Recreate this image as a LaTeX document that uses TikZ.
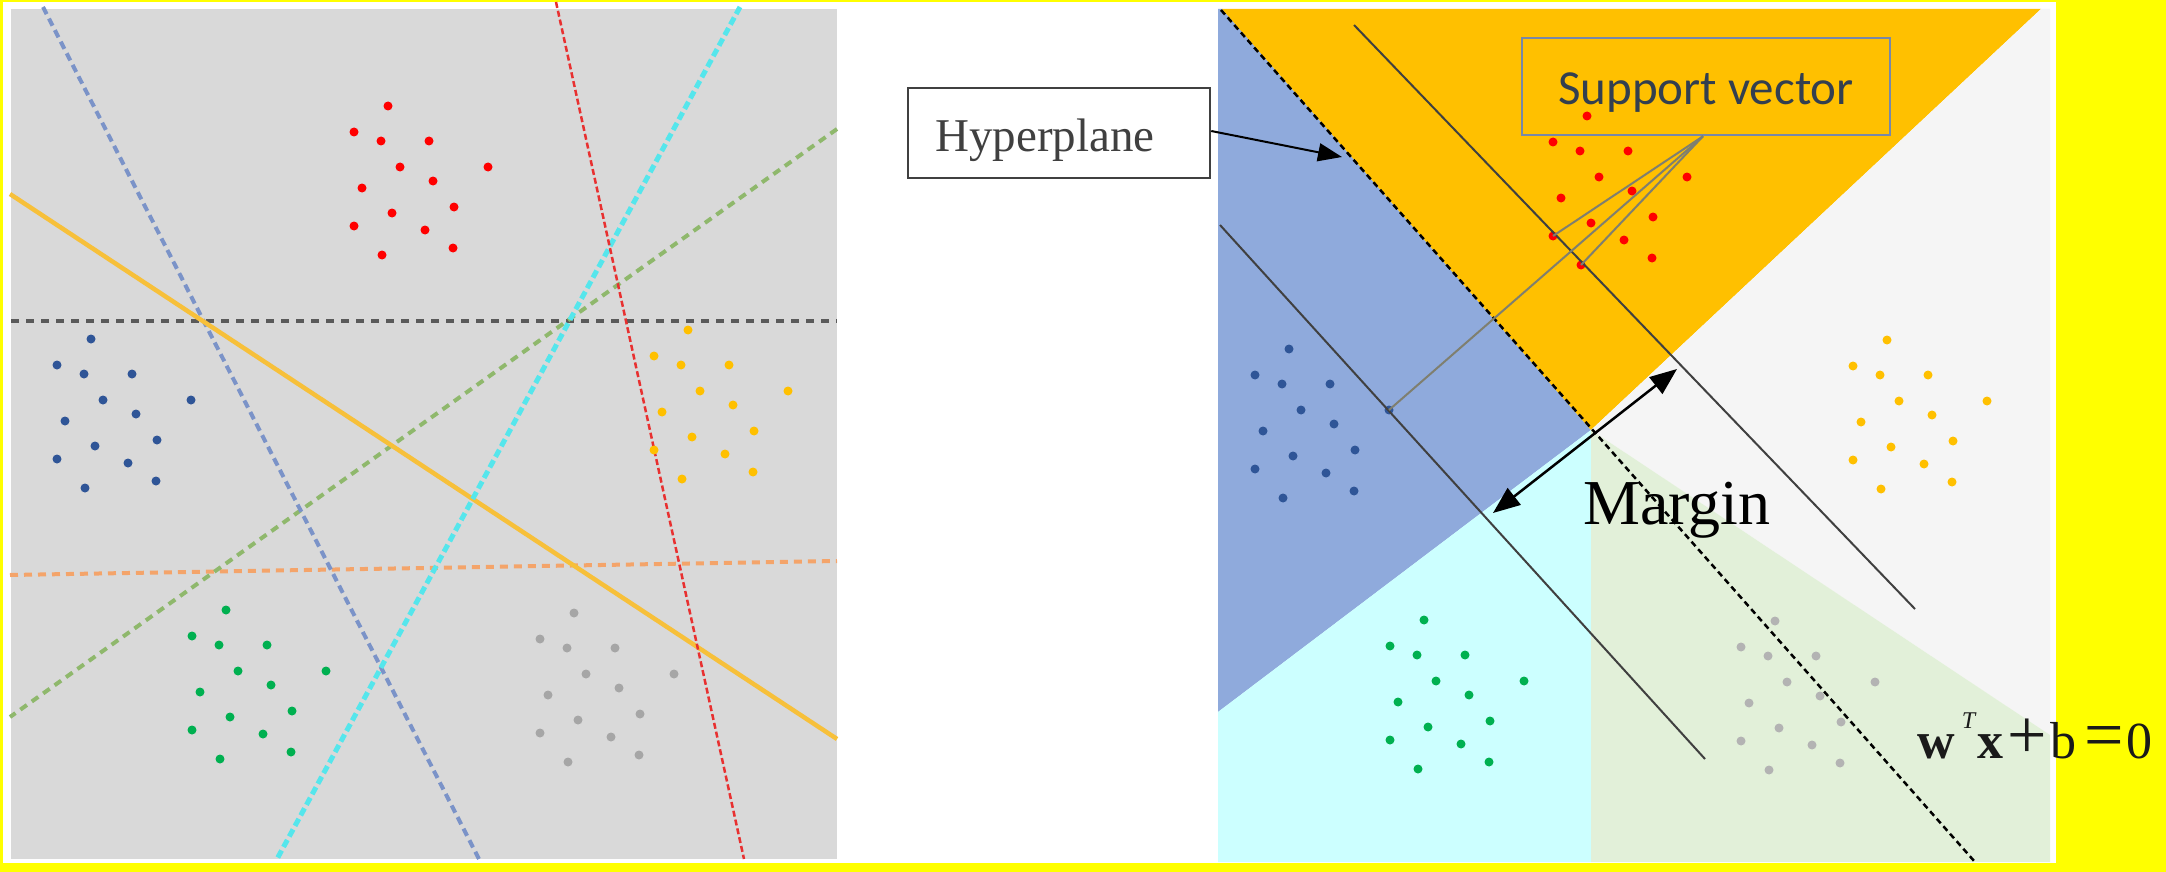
\documentclass[tikz,border=0pt]{standalone}
\usepackage{fontspec}
\setmainfont{Liberation Serif}
\newfontfamily\svfont{Carlito}
\usetikzlibrary{arrows.meta}
\definecolor{frameyel}{HTML}{FFFF00}
\definecolor{panelgray}{HTML}{D9D9D9}
\definecolor{dred}{HTML}{FF0000}
\definecolor{dblue}{HTML}{2F5597}
\definecolor{dyel}{HTML}{FFC000}
\definecolor{dgreen}{HTML}{00B050}
\definecolor{dgray}{HTML}{A6A6A6}
\definecolor{lblue}{HTML}{7B93C8}
\definecolor{lred}{HTML}{E83030}
\definecolor{lcyan}{HTML}{55E6EC}
\definecolor{lgreen}{HTML}{8FB86C}
\definecolor{lblack}{HTML}{5A5A5A}
\definecolor{lorange}{HTML}{F4A46A}
\definecolor{lyellow}{HTML}{F7C03A}
\definecolor{rblue}{HTML}{8FAADC}
\definecolor{rorange}{HTML}{FFC000}
\definecolor{rwhite}{HTML}{F5F5F5}
\definecolor{rcyan}{HTML}{CCFFFF}
\definecolor{rgreen}{HTML}{E2F0D9}
\definecolor{boxline}{HTML}{404040}
\definecolor{svborder}{HTML}{7888A8}
\definecolor{svtext}{HTML}{333F4F}
\definecolor{svlink}{HTML}{7F7F6F}
\definecolor{eqtext}{HTML}{1A1A1A}
\newcommand\dotcluster[4]{%
  \foreach \dx/\dy [count=\k] in {0/0,-34/26,-7/35,41/35,12/61,100/61,45/75,-26/82,66/101,4/107,-34/120,37/124,65/142,-6/149}{%
    \node[dot=#2] (#1\k) at ({#3+\dx},{#4+\dy}) {};}}
\begin{document}
\begin{tikzpicture}[x=1pt,y=-1pt,
  dot/.style={circle,fill=#1,draw=none,inner sep=0pt,minimum size=9pt},
  dashline/.style={line width=4pt,dash pattern=on 8pt off 5pt},
  marginline/.style={draw=boxline,line width=2pt},
  hyperline/.style={draw=black,line width=2.5pt,dash pattern=on 6pt off 4pt},
  svlinkstyle/.style={draw=svlink,line width=2pt},
  hypbox/.style={draw=boxline,line width=2.5pt,fill=white,minimum width=302pt,minimum height=90pt,inner sep=0pt,text height=37pt,text depth=0pt,font=\fontsize{47}{56}\selectfont,text=boxline},
  svbox/.style={draw=svborder,line width=2.5pt,minimum width=368pt,minimum height=97pt,inner sep=0pt,text height=37pt,text depth=0pt,font=\svfont\fontsize{49}{58}\selectfont,text=svtext},
  arrowline/.style={draw=black,line width=2pt,-{Triangle[length=24pt,width=18pt]}},
  dblarrow/.style={draw=black,line width=2.5pt,{Triangle[length=27pt,width=21pt]}-{Triangle[length=27pt,width=21pt]}}
]
\useasboundingbox (0,0) rectangle (2166,872);
% frame
\fill[frameyel] (0,0) rectangle (2166,872);
\fill[white] (3,2) rectangle (2056,863);
% ---------------- left panel ----------------
\fill[panelgray] (11,9) rectangle (837,859);
\coordinate (bl1) at (43,7);   \coordinate (bl2) at (479,859);
\coordinate (rl1) at (556,2);  \coordinate (rl2) at (744,859);
\coordinate (cl1) at (740,7);  \coordinate (cl2) at (277,859);
\coordinate (gl1) at (837,129);\coordinate (gl2) at (10,717);
\coordinate (kl1) at (11,321); \coordinate (kl2) at (837,321);
\coordinate (ol1) at (10,575); \coordinate (ol2) at (837,561);
\coordinate (yl1) at (10,194); \coordinate (yl2) at (837,739);
\draw[dashline,draw=lblack,line width=4.5pt,dash pattern=on 8pt off 7pt] (kl1) -- (kl2);
\draw[dashline,draw=lorange,dash pattern=on 8pt off 6pt] (ol1) -- (ol2);
\draw[dashline,draw=lgreen,dash pattern=on 8pt off 6pt] (gl1) -- (gl2);
\draw[dashline,draw=lblue] (bl1) -- (bl2);
\draw[lyellow,line width=4.5pt] (yl1) -- (yl2);
\draw[dashline,draw=lcyan,line width=5pt,dash pattern=on 8pt off 4pt] (cl1) -- (cl2);
\draw[draw=lred,line width=2.5pt,dash pattern=on 6pt off 3pt] (rl1) -- (rl2);
\dotcluster{lR}{dred}{388}{106}
\dotcluster{lB}{dblue}{91}{339}
\dotcluster{lY}{dyel}{688}{330}
\dotcluster{lG}{dgreen}{226}{610}
\dotcluster{lK}{dgray}{574}{613}
% ---------------- right panel ----------------
\coordinate (ctr) at (1591,430);
\fill[rblue] (1218,9) -- (1222,9) -- (ctr) -- (1218,712) -- cycle;
\fill[rorange] (1222,9) -- (2041,9) -- (ctr) -- cycle;
\fill[rwhite] (2041,9) -- (2050,9) -- (2050,735) -- (ctr) -- cycle;
\fill[rcyan] (1218,712) -- (ctr) -- (1591,862) -- (1218,862) -- cycle;
\fill[rgreen] (ctr) -- (2050,735) -- (2050,862) -- (1591,862) -- cycle;
\dotcluster{R}{dred}{1587}{116}
\dotcluster{B}{dblue}{1289}{349}
\dotcluster{Y}{dyel}{1887}{340}
\dotcluster{G}{dgreen}{1424}{620}
\dotcluster{K}{dgray!85}{1775}{621}
% margin lines and hyperplane
\coordinate (um1) at (1354,25);  \coordinate (um2) at (1915,609);
\coordinate (lm1) at (1220,225); \coordinate (lm2) at (1705,759);
\coordinate (hp1) at (1221,10);  \coordinate (hp2) at (1975,862);
\draw[marginline] (um1) -- (um2);
\draw[marginline] (lm1) -- (lm2);
\draw[hyperline] (hp1) -- (hp2);
% labels
\node[svbox] (sv) at (1706,86.5) {Support vector};
\draw[svlinkstyle] ([xshift=-3pt]sv.south) -- (R11.center);
\draw[svlinkstyle] ([xshift=-3pt]sv.south) -- (R14.center);
\draw[svlinkstyle] ([xshift=-3pt]sv.south) -- (B6.center);
\node[hypbox] (hyp) at (1059,133) {Hyperplane\hspace*{28pt}};
\coordinate (hptip) at (1342,157);
\draw[arrowline] ([yshift=2pt]hyp.east) -- (hptip);
\coordinate (m1) at (1677,369);
\coordinate (m2) at (1493,513);
\draw[dblarrow] (m2) -- (m1);
\node[anchor=base west,inner sep=0pt,font=\fontsize{64}{70}\selectfont] (margin) at (1583,524) {Margin};
\node[anchor=base west,inner sep=0pt,text=eqtext,font=\fontsize{52}{60}\selectfont] (eq) at (1917,758)
  {\textbf{w}\hspace{7pt}\raisebox{30pt}{\fontsize{24}{28}\selectfont\itshape T}\hspace{2pt}\textbf{x}\hspace{4pt}{\fontsize{70}{70}\selectfont +}\hspace{4pt}b\hspace{8pt}{\fontsize{70}{70}\selectfont =}\hspace{2pt}0};
\end{tikzpicture}
\end{document}
